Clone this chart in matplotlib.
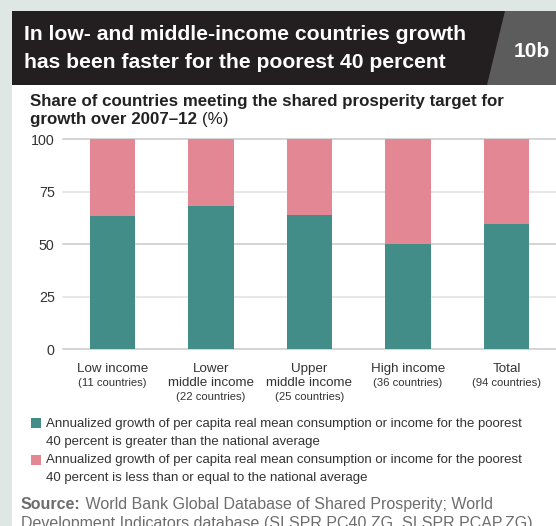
import matplotlib
matplotlib.use("Agg")
import matplotlib.pyplot as plt
from matplotlib.patches import Rectangle, Polygon
from matplotlib.transforms import blended_transform_factory

W, H = 556, 526

# 各收入组国家数 / 最贫困40%增长快于全国平均的国家数
categories = ["Low income", "Lower\nmiddle income", "Upper\nmiddle income", "High income", "Total"]
country_counts = [11, 22, 25, 36, 94]
faster_counts = [7, 15, 16, 18, 56]
yticks = [0, 25, 50, 75, 100]
legend_labels = [
    "Annualized growth of per capita real mean consumption or income for the poorest\n"
    "40 percent is greater than the national average",
    "Annualized growth of per capita real mean consumption or income for the poorest\n"
    "40 percent is less than or equal to the national average",
]

share_faster = [f / n * 100 for f, n in zip(faster_counts, country_counts)]
share_slower = [100 - s for s in share_faster]

TEAL = "#438d88"
PINK = "#e48795"
FONT = ["Liberation Sans", "DejaVu Sans"]


def fx(x):
    return x / W


def fy(y):
    return 1 - y / H


fig = plt.figure(figsize=(W / 100, H / 100), dpi=100)
fig.patch.set_facecolor("#dfe7e5")

# 白底面板 + 标题栏
fig.patches.append(Rectangle((fx(12), 0), 1 - fx(12), fy(11), transform=fig.transFigure,
                             facecolor="white", edgecolor="none", zorder=-3))
fig.patches.append(Rectangle((fx(12), fy(85)), 1 - fx(12), fy(11) - fy(85), transform=fig.transFigure,
                             facecolor="#231f20", edgecolor="none", zorder=-2))
fig.patches.append(Polygon([(fx(505), fy(11)), (1, fy(11)), (1, fy(85)), (fx(487), fy(85))],
                           closed=True, transform=fig.transFigure,
                           facecolor="#5c5c5c", edgecolor="none", zorder=-1))

fig.text(fx(24), fy(40), "In low- and middle-income countries growth", color="white",
         fontsize=15.2, fontweight="bold", family=FONT, va="baseline", ha="left")
fig.text(fx(24), fy(68), "has been faster for the poorest 40 percent", color="white",
         fontsize=15.2, fontweight="bold", family=FONT, va="baseline", ha="left")
fig.text(fx(532), fy(57), "10b", color="white", fontsize=15, fontweight="bold",
         family=FONT, va="baseline", ha="center")

fig.text(fx(30), fy(106), "Share of countries meeting the shared prosperity target for",
         color="#222222", fontsize=12.2, fontweight="bold", family=FONT, va="baseline")
t = fig.text(fx(30), fy(124), "growth over 2007\u201312 ", color="#222222", fontsize=12.2,
             fontweight="bold", family=FONT, va="baseline")
fig.canvas.draw()
bb = t.get_window_extent()
fig.text(bb.x1 / W, fy(124), "(%)", color="#222222", fontsize=12.2, family=FONT, va="baseline")

# 柱状图
ax = fig.add_axes([fx(63), fy(349.3), 1 - fx(63), fy(139.3) - fy(349.3)])
ax.set_facecolor("none")
ax.set_zorder(2)
x = list(range(len(categories)))
ax.bar(x, share_faster, width=0.46, color=TEAL, zorder=3)
ax.bar(x, share_slower, bottom=share_faster, width=0.46, color=PINK, zorder=3)

for v in yticks:
    ax.axhline(v, color="#c9c9c9" if v % 50 == 0 else "#e2e2e2", lw=1.1, zorder=1, clip_on=False)

ax.set_xlim(-0.5, 4.5)
ax.set_ylim(0, 100)
ax.set_yticks(yticks)
ax.set_yticklabels([str(v) for v in yticks], family=FONT, fontsize=10.3, color="#333333")
ax.tick_params(axis="y", length=0, pad=6)
ax.set_xticks([])
for s in ax.spines.values():
    s.set_visible(False)

# 分类标签
tr = blended_transform_factory(ax.transData, fig.transFigure)
for i, (name, n) in enumerate(zip(categories, country_counts)):
    lines = name.split("\n")
    for j, line in enumerate(lines):
        ax.text(i, fy(372 + 14 * j), line, transform=tr, ha="center", va="baseline",
                fontsize=9.6, color="#333333", family=FONT)
    ax.text(i, fy(386 + 14 * (len(lines) - 1)), f"({n} countries)", transform=tr,
            ha="center", va="baseline", fontsize=8.1, color="#333333", family=FONT)

# 图例（色块 + 两行说明）
for k, (label, color) in enumerate(zip(legend_labels, [TEAL, PINK])):
    top = 418 + 36.5 * k
    fig.patches.append(Rectangle((fx(31), fy(top + 10)), fx(10), fy(top) - fy(top + 10),
                                 transform=fig.transFigure, facecolor=color, edgecolor="none"))
    for j, line in enumerate(label.split("\n")):
        fig.text(fx(46), fy(427 + 36.5 * k + 18 * j), line, color="#333333", fontsize=9.5,
                 family=FONT, va="baseline")

# 资料来源
s = fig.text(fx(21), fy(509), "Source:", color="#6d6d6d", fontsize=11.5, fontweight="bold",
             family=FONT, va="baseline")
fig.canvas.draw()
bb = s.get_window_extent()
fig.text(bb.x1 / W, fy(509), " World Bank Global Database of Shared Prosperity; World",
         color="#6d6d6d", fontsize=11.5, family=FONT, va="baseline")
fig.text(fx(21), fy(528), "Development Indicators database (SI.SPR.PC40.ZG, SI.SPR.PCAP.ZG).",
         color="#6d6d6d", fontsize=11.5, family=FONT, va="baseline")

fig.savefig("out.png", dpi=100)
